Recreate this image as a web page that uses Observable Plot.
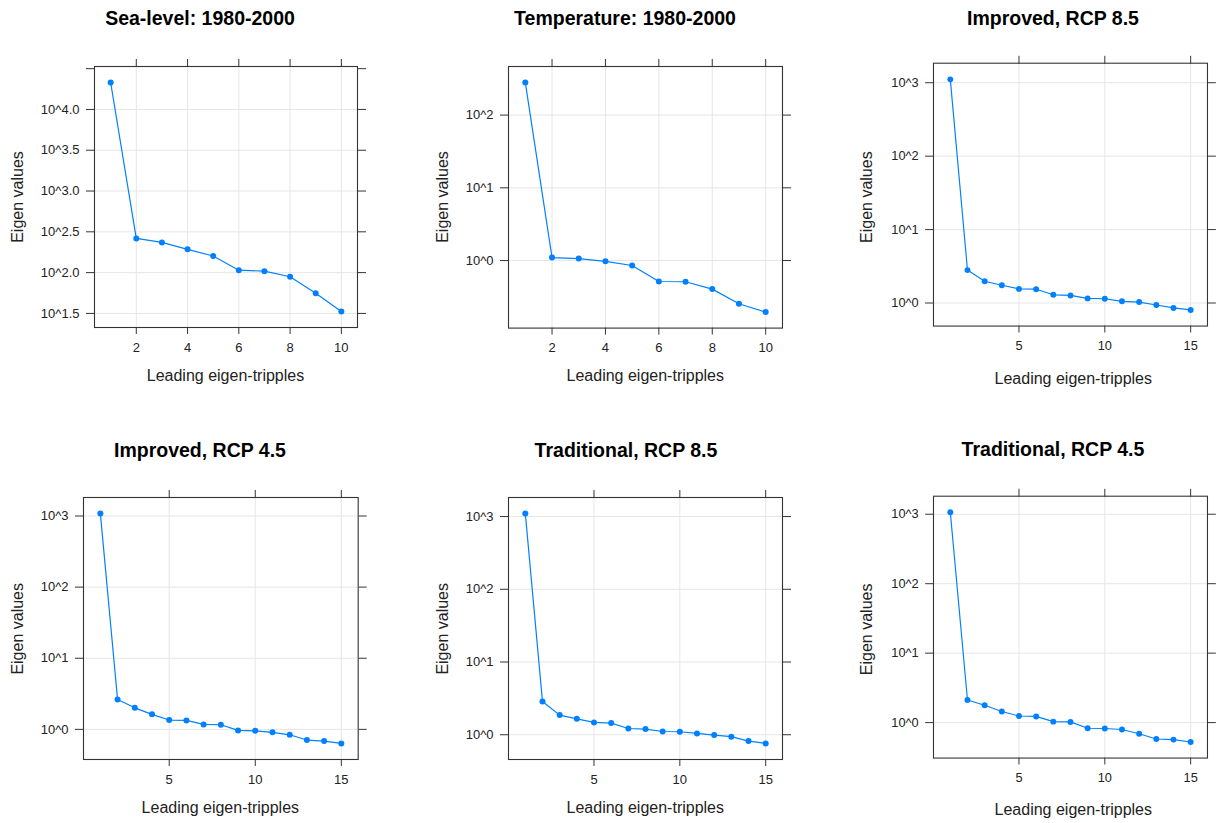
<!DOCTYPE html>
<html><head><meta charset="utf-8">
<script src="https://cdn.jsdelivr.net/npm/d3@7"></script>
<script src="https://cdn.jsdelivr.net/npm/@observablehq/plot@0.6"></script>
<style>
body{margin:0;background:#fff;}
#root{position:relative;width:1227px;height:823px;overflow:hidden;font-family:"Liberation Sans",Arial,Helvetica,sans-serif;}
.panel{position:absolute;}
</style></head><body><div id="root"></div>
<script>
// ---- data ----
const panelTitles = ["Sea-level: 1980-2000","Temperature: 1980-2000","Improved, RCP 8.5","Improved, RCP 4.5","Traditional, RCP 8.5","Traditional, RCP 4.5"];
const xLabel = "Leading eigen-tripples";
const yLabel = "Eigen values";

const seaLevel1980 = [21380, 262.4, 234.4, 192.8, 160.0, 107.2, 104.2, 88.9, 55.7, 33.4];
const temperature1980 = [280, 1.099, 1.064, 0.977, 0.855, 0.515, 0.511, 0.405, 0.255, 0.196];
const improvedRcp85 = [1112, 2.805, 1.977, 1.746, 1.556, 1.542, 1.294, 1.268, 1.156, 1.143, 1.054, 1.030, 0.940, 0.857, 0.805];
const improvedRcp45 = [1081, 2.636, 2.009, 1.626, 1.352, 1.337, 1.175, 1.161, 0.968, 0.955, 0.908, 0.839, 0.708, 0.685, 0.635];
const traditionalRcp85 = [1099, 2.864, 1.862, 1.656, 1.476, 1.445, 1.219, 1.197, 1.109, 1.099, 1.042, 0.989, 0.940, 0.818, 0.760];
const traditionalRcp45 = [1067, 2.118, 1.778, 1.445, 1.245, 1.227, 1.033, 1.023, 0.830, 0.822, 0.796, 0.692, 0.581, 0.569, 0.526];

// tick exponents (base 10) and their labels
const seaTickExp = [1.5, 2, 2.5, 3, 3.5, 4, 4.5];
const seaTickLabels = ["10^1.5","10^2.0","10^2.5","10^3.0","10^3.5","10^4.0",""];
const tempTickExp = [0, 1, 2];
const tempTickLabels = ["10^0","10^1","10^2"];
const rcpTickExp = [0, 1, 2, 3];
const rcpTickLabels = ["10^0","10^1","10^2","10^3"];
const xTicksTen = [2, 4, 6, 8, 10];
const xTicksFifteen = [5, 10, 15];

// ---- layout (frame geometry, in page pixels) ----
const layout = [
  {fx:94,    fy:66,    fw:263,   fh:261,   tx:200,  ty:25,  yl:23},
  {fx:508.3, fy:65.7,  fw:274,   fh:261.6, tx:625,  ty:25,  yl:448},
  {fx:934.3, fy:63.3,  fw:278,   fh:266.7, tx:1053, ty:25,  yl:872},
  {fx:83,    fy:497.3, fw:274.7, fh:262,   tx:200,  ty:457, yl:23},
  {fx:508.3, fy:497.3, fw:274,   fh:262,   tx:626,  ty:457, yl:448},
  {fx:934.3, fy:496,   fw:278,   fh:265.7, tx:1053, ty:456, yl:872}
];
const series = [seaLevel1980, temperature1980, improvedRcp85, improvedRcp45, traditionalRcp85, traditionalRcp45];
const yExps = [seaTickExp, tempTickExp, rcpTickExp, rcpTickExp, rcpTickExp, rcpTickExp];
const yLabs = [seaTickLabels, tempTickLabels, rcpTickLabels, rcpTickLabels, rcpTickLabels, rcpTickLabels];
const xTks = [xTicksTen, xTicksTen, xTicksFifteen, xTicksFifteen, xTicksFifteen, xTicksFifteen];

const FONT = '"Liberation Sans", Arial, Helvetica, sans-serif';
const BLUE = "#0080ff";
const GRID = "#e6e6e6";
const INK = "#333";
const root = document.getElementById("root");

function drawPanel(i) {
  const L = layout[i], values = series[i];
  const n = values.length;
  const data = values.map((v, k) => ({k: k + 1, v}));
  const lv = values.map(Math.log10);
  const lo = d3.min(lv), hi = d3.max(lv), pad = 0.07 * (hi - lo);
  const xpad = 0.07 * (n - 1);
  const yt = yExps[i].map(e => Math.pow(10, e));
  const labs = yLabs[i];
  const tickRows = yt.map((t, j) => ({t, label: labs[j]}));
  const ML = 70, MR = 20, MT = 20, MB = 30;
  const chart = Plot.plot({
    width: L.fw + ML + MR, height: L.fh + MT + MB,
    marginLeft: ML, marginRight: MR, marginTop: MT, marginBottom: MB,
    style: {fontFamily: FONT, fontSize: "13px", color: "#222", background: "transparent", overflow: "visible"},
    x: {domain: [1 - xpad, n + xpad]},
    y: {type: "log", domain: [Math.pow(10, lo - pad), Math.pow(10, hi + pad)]},
    marks: [
      Plot.gridX(xTks[i], {stroke: GRID, strokeOpacity: 1}),
      Plot.gridY(tickRows.filter(d => d.label !== ""), {y: "t", stroke: GRID, strokeOpacity: 1}),
      Plot.axisY(yt, {anchor: "left", tickSize: 8, label: null, stroke: INK, tickFormat: () => ""}),
      Plot.text(tickRows, {y: "t", text: "label", frameAnchor: "left", textAnchor: "end", dx: -15,
        fill: "#222", fontSize: 13}),
      Plot.axisY(yt, {anchor: "right", tickSize: 8, label: null, stroke: INK, tickFormat: () => ""}),
      Plot.axisX(xTks[i], {anchor: "bottom", tickSize: 7, tickPadding: 8, label: null, stroke: INK}),
      Plot.axisX(xTks[i], {anchor: "top", tickSize: 8, label: null, stroke: INK, tickFormat: () => ""}),
      Plot.frame({stroke: INK, strokeWidth: 1.1}),
      Plot.line(data, {x: "k", y: "v", stroke: BLUE, strokeWidth: 1.2}),
      Plot.dot(data, {x: "k", y: "v", r: 3, fill: BLUE, stroke: null})
    ]
  });
  const wrap = document.createElement("div");
  wrap.className = "panel";
  wrap.style.left = (L.fx - ML) + "px";
  wrap.style.top = (L.fy - MT) + "px";
  wrap.appendChild(chart);
  root.appendChild(wrap);
}
for (let i = 0; i < 6; i++) drawPanel(i);

// titles and axis titles
const ov = d3.select(root).append("svg")
  .attr("width", 1227).attr("height", 823)
  .style("position", "absolute").style("left", 0).style("top", 0)
  .style("pointer-events", "none")
  .style("font-family", FONT);
layout.forEach((L, i) => {
  ov.append("text").attr("x", L.tx).attr("y", L.ty)
    .attr("text-anchor", "middle").attr("font-weight", "bold").attr("font-size", 19.5)
    .attr("fill", "#000").text(panelTitles[i]);
  ov.append("text").attr("x", L.fx + L.fw / 2).attr("y", L.fy + L.fh + 53.5)
    .attr("text-anchor", "middle").attr("font-size", 16).attr("fill", "#222").text(xLabel);
  const cy = L.fy + L.fh / 2 + 0.5;
  ov.append("text").attr("transform", `translate(${L.yl},${cy}) rotate(-90)`)
    .attr("text-anchor", "middle").attr("font-size", 16).attr("fill", "#222").text(yLabel);
});
</script>
</body></html>
